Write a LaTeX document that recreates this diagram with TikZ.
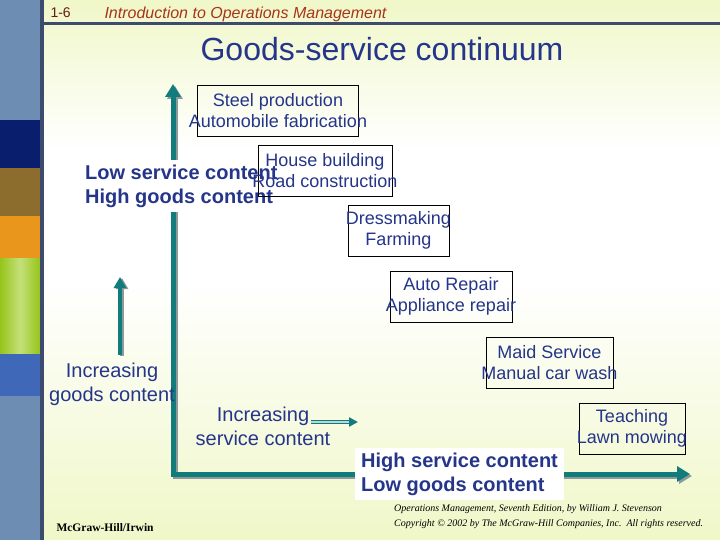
\documentclass[tikz,border=0pt]{standalone}
\usepackage{fontspec}
\setmainfont{Liberation Sans}
\newfontfamily\footserif{Liberation Serif}
\usepackage{tikz}
\usetikzlibrary{arrows.meta,positioning}
\definecolor{SlideTeal}{HTML}{127C7C}
\definecolor{SlideShade}{HTML}{8C9A9A}
\definecolor{SlideInk}{HTML}{24358A}
\definecolor{SlideRule}{HTML}{3C4B6E}
\definecolor{SlidePale}{HTML}{F0F7C8}
\definecolor{SlideHead}{HTML}{A8341A}
\definecolor{BarSteel}{HTML}{6D8DB3}
\definecolor{BarNavy}{HTML}{0A1E6E}
\definecolor{BarBrown}{HTML}{8C6D2E}
\definecolor{BarOrange}{HTML}{E8961C}
\definecolor{BarGreen}{HTML}{96C41A}
\definecolor{BarLime}{HTML}{C4E07A}
\definecolor{BarBlue}{HTML}{4068B8}
\newcommand{\boxline}[1]{\makebox[0pt]{#1}}

\begin{document}
\begin{tikzpicture}[x=1pt, y=-1pt, every node/.style={text=SlideInk, font=\fontsize{20}{24}\selectfont}, box/.style={draw=black, line width=0.8pt, minimum height=51pt, inner sep=0pt, align=center, font=\fontsize{18}{21}\selectfont}, tag/.style={fill=white, inner xsep=6pt, inner ysep=5pt, align=left, anchor=west, font=\bfseries\fontsize{20}{24}\selectfont}, axis/.style={line width=5pt, color=SlideTeal, line join=miter, {Triangle[length=13pt,width=15pt]}-{Triangle[length=13pt,width=15pt]}}, axisshade/.style={axis, color=SlideShade}, arrow/.style={-{Triangle[length=11pt,width=12pt]}, line width=4.5pt, color=SlideTeal}]
\useasboundingbox (0,0) rectangle (720,540);
% background and side bar
\shade[top color=SlidePale, bottom color=white] (43,0) rectangle (720,150);
\fill[white] (43,150) rectangle (720,280);
\shade[top color=white, bottom color=SlidePale] (43,280) rectangle (720,540);
\fill[BarSteel] (0,0) rectangle (40,120);
\fill[BarNavy] (0,120) rectangle (40,168);
\fill[BarBrown] (0,168) rectangle (40,216);
\fill[BarOrange] (0,216) rectangle (40,258);
\shade[left color=BarGreen, right color=BarGreen, middle color=BarLime] (0,258) rectangle (40,354);
\fill[BarBlue] (0,354) rectangle (40,396);
\fill[BarSteel] (0,396) rectangle (40,540);
\fill[SlideRule] (40,0) rectangle (43.5,540);
\fill[SlideRule] (43.5,22) rectangle (720,25.5);
% header and title
\node[text=SlideHead!60!black, font=\fontsize{14}{16}\selectfont, anchor=west] (num) at (47,13) {1-6};
\node[text=SlideHead, font=\itshape\fontsize{16}{18}\selectfont, anchor=west] (course) at (101,14) {Introduction to Operations Management};
\node[font=\fontsize{32}{36}\selectfont] (title) at (382,49) {Goods-service continuum};
% axes
\coordinate (ytop) at (173,84);
\coordinate (orig) at (173,474);
\coordinate (xend) at (690,474);
\draw[axisshade] ([shift={(2,2)}]ytop) -- ([shift={(2,2)}]orig) -- ([shift={(2,2)}]xend);
\draw[axis] (ytop) -- (orig) -- (xend);
\coordinate (gbot) at (120,355);
\coordinate (gtop) at (120,277);
\draw[arrow, color=SlideShade] ([shift={(2,1)}]gbot) -- ([shift={(2,1)}]gtop);
\draw[arrow] (gbot) -- (gtop);
\node[align=center] (incgoods) at (112,384) {Increasing\\goods content};
\node[align=center] (incsvc) at (263,426) {Increasing\\service content};
\coordinate (sbeg) at (311,422);
\coordinate (send) at (358,422);
\draw[line width=4pt, color=SlideTeal, -{Triangle[length=9pt,width=9pt]}] (sbeg) -- (send);
\draw[line width=1.2pt, color=white!70!SlideTeal, shorten >=9pt] (sbeg) -- (send);
% end labels
\node[tag] (lowsvc) at (79,186) {Low service content\\High goods content};
\node[tag] (highsvc) at (355,474) {High service content\\Low goods content};
% examples along the continuum
\node[box, minimum width=161pt] (steel) at (278,110.5) {\boxline{Steel production}\\\boxline{Automobile fabrication}};
\node[box, minimum width=134pt] (house) at (325,170.5) {\boxline{House building}\\\boxline{Road construction}};
\node[box, minimum width=101pt] (dress) at (398.5,230.5) {\boxline{Dressmaking}\\\boxline{Farming}};
\node[box, minimum width=122pt] (auto) at (451,296.5) {\boxline{Auto Repair}\\\boxline{Appliance repair}};
\node[box, minimum width=127pt] (maid) at (549.5,362.5) {\boxline{Maid Service}\\\boxline{Manual car wash}};
\node[box, minimum width=106pt] (teach) at (632,428.5) {\boxline{Teaching}\\\boxline{Lawn mowing}};
% footer
\node[text=black, font=\footserif\bfseries\fontsize{11.5}{13}\selectfont, anchor=west] (pub) at (53,528) {McGraw-Hill/Irwin};
\node[text=black, font=\footserif\itshape\fontsize{10}{15}\selectfont, align=left, anchor=north west, inner sep=0pt] (copy) at (394,504) {Operations Management, Seventh Edition, by William J. Stevenson\\Copyright \textcopyright{} 2002 by The McGraw-Hill Companies, Inc.\ \ All rights reserved.};
\end{tikzpicture}
\end{document}
